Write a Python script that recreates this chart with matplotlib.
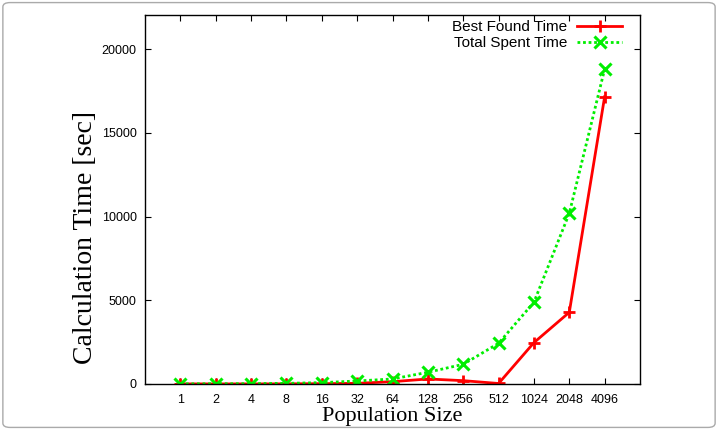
import matplotlib
matplotlib.use("Agg")
import matplotlib.pyplot as plt
from matplotlib.patches import FancyBboxPatch

categories = ["1", "2", "4", "8", "16", "32", "64", "128", "256", "512", "1024", "2048", "4096"]
best_found = [5, 5, 5, 10, 20, 40, 140, 300, 200, 30, 2470, 4280, 17150]
total_spent = [10, 15, 20, 40, 80, 180, 300, 700, 1175, 2430, 4880, 10190, 18800]
yticks = [0, 5000, 10000, 15000, 20000]

fig = plt.figure(figsize=(7.18, 4.30), dpi=100)
ax = fig.add_axes([145/718, 1 - 384/430, (640-145)/718, (384-15)/430])

x = list(range(1, len(categories) + 1))
ax.plot(x, best_found, color="#ff0000", lw=2, marker="+", ms=9, mew=2,
        label="Best Found Time")
ax.plot(x, total_spent, color="#00ee00", lw=2, ls=(0, (1, 1)), marker="x", ms=8, mew=2.2,
        label="Total Spent Time")

ax.set_xlim(0, 14)
ax.set_ylim(0, 22030)
ax.set_xticks(x)
ax.set_xticklabels(categories, fontfamily="Liberation Sans", fontsize=9)
ax.set_yticks(yticks)
ax.set_yticklabels([str(v) for v in yticks], fontfamily="Liberation Sans", fontsize=9)
ax.tick_params(direction="in", top=True, right=True, length=4, width=0.8)
ax.tick_params(axis="x", pad=7)
ax.tick_params(axis="y", pad=6)
for s in ax.spines.values():
    s.set_linewidth(1.0)

ax.set_xlabel("Population Size", fontfamily="Liberation Serif", fontsize=16, labelpad=1)
ax.set_ylabel("Calculation Time [sec]", fontfamily="Liberation Serif", fontsize=20)
ax.yaxis.set_label_coords(-0.121, 0.396)
ax.yaxis.label.set_va("center")

leg = ax.legend(loc="upper right", bbox_to_anchor=(0.970, 0.994), frameon=False, markerfirst=False,
                prop={"family": "Liberation Sans", "size": 11},
                handlelength=2.95, borderaxespad=0, borderpad=0.2,
                labelspacing=0.14, handletextpad=0.65)

border = FancyBboxPatch((0.004, 0.006), 0.992, 0.988, boxstyle="round,pad=0,rounding_size=0.01",
                        transform=fig.transFigure, fill=False, edgecolor="#aaaaaa", lw=1.0)
fig.patches.append(border)

fig.savefig("out.png", dpi=100)
